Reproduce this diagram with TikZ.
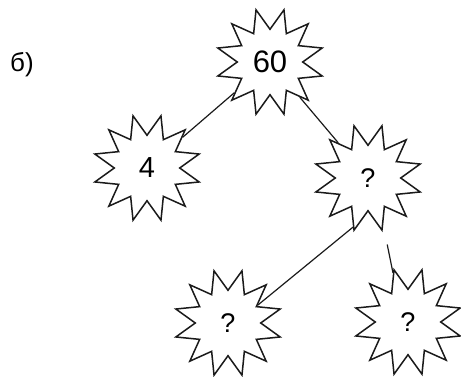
\documentclass[tikz,border=0pt]{standalone}
\usepackage{fontspec}
\setmainfont{Liberation Sans}
\usetikzlibrary{shapes.geometric}
\definecolor{ink}{HTML}{1A1A1A}

\begin{document}
\begin{tikzpicture}[
  x=1pt,y=1pt,
  burst/.style={star,star points=12,star point ratio=1.65,shape border rotate=15,
    draw=ink,line width=1.5pt,fill=white,minimum size=108pt,inner sep=0pt},
  num/.style={burst,font=\fontsize{29}{31}\selectfont},
  ask/.style={burst,font=\fontsize{27}{29}\selectfont},
  link/.style={draw=ink,line width=1.2pt}
]
\useasboundingbox (0,0) rectangle (461,376);
\node[font=\fontsize{26}{28}\selectfont] (part) at (22,311) {б)};
\node[num,font=\fontsize{31}{33}\selectfont] (root) at (270,314) {60};
\node[num] (four) at (147,208) {4};
\node[ask] (mid) at (368,198) {?};
\node[ask] (left) at (228,53) {?};
\node[ask] (right) at (408,54) {?};
\draw[link] (root) -- (four);
\draw[link] (root) -- (mid);
\draw[link] (mid.253) -- (left.31);
\draw[link,shorten <=20pt] (mid.-72) -- (right.107);
\end{tikzpicture}
\end{document}
